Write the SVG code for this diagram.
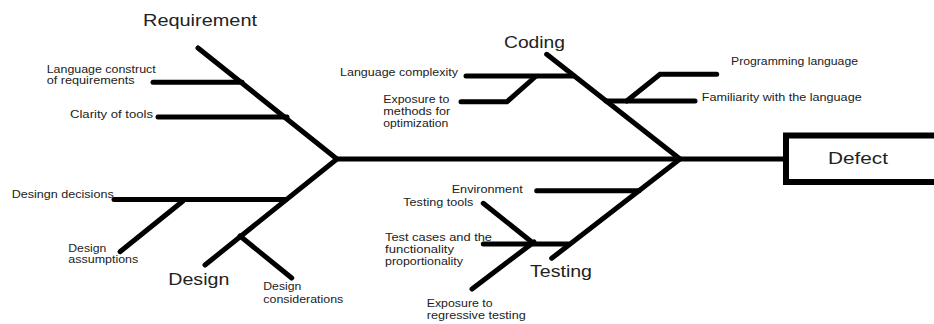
<svg xmlns="http://www.w3.org/2000/svg" width="934" height="324" viewBox="0 0 934 324">
  <style>
    .ln { fill: none; stroke: #000; stroke-width: 5; stroke-linecap: round; stroke-linejoin: miter; }
    .sm { font-family: "Liberation Sans", Arial, sans-serif; font-size: 10px; fill: #222; lengthAdjust: spacingAndGlyphs; }
    .lg { font-family: "Liberation Sans", Arial, sans-serif; font-size: 16px; fill: #222; }
    .box { fill: #fff; stroke: #000; stroke-width: 6; }
  </style>
  <rect width="934" height="324" fill="#fff"/>

  <!-- spine and main bones -->
  <g id="connectors">
    <path class="ln" d="M337 159 H786" stroke-linecap="butt"/>
    <path class="ln" d="M198 48 L337 159 L205 265"/>
    <path class="ln" d="M546.7 54.3 L680 159 L551.7 258.3"/>
  </g>

  <!-- effect -->
  <g id="defect">
    <rect class="box" x="786" y="135.5" width="160" height="46.5"/>
    <text class="lg" x="828" y="164" font-size="18" textLength="60" lengthAdjust="spacingAndGlyphs">Defect</text>
  </g>

  <!-- Requirement causes -->
  <g id="requirement">
    <text class="lg" x="143" y="26" textLength="114" lengthAdjust="spacingAndGlyphs">Requirement</text>
    <path class="ln" d="M153 82.3 H242"/>
    <path class="ln" d="M158 117 H287"/>
    <text class="sm" x="46.7" y="72.5" textLength="109" lengthAdjust="spacingAndGlyphs">Language construct</text>
    <text class="sm" x="46.7" y="84.3" textLength="88" lengthAdjust="spacingAndGlyphs">of requirements</text>
    <text class="sm" x="70" y="118" textLength="83" lengthAdjust="spacingAndGlyphs">Clarity of tools</text>
  </g>

  <!-- Coding causes -->
  <g id="coding">
    <text class="lg" x="504" y="47.7" textLength="61" lengthAdjust="spacingAndGlyphs">Coding</text>
    <path class="ln" d="M466 76 H574"/>
    <path class="ln" d="M461 101.7 H507 L535 77"/>
    <path class="ln" d="M606 101 H695"/>
    <path class="ln" d="M626.7 101 L660 74.3 H716.7"/>
    <text class="sm" x="340" y="75.5" textLength="118" lengthAdjust="spacingAndGlyphs">Language complexity</text>
    <text class="sm" x="383.3" y="102.7" textLength="66" lengthAdjust="spacingAndGlyphs">Exposure to</text>
    <text class="sm" x="383.3" y="115" textLength="67" lengthAdjust="spacingAndGlyphs">methods for</text>
    <text class="sm" x="383.3" y="127.3" textLength="65" lengthAdjust="spacingAndGlyphs">optimization</text>
    <text class="sm" x="731" y="65" textLength="127" lengthAdjust="spacingAndGlyphs">Programming language</text>
    <text class="sm" x="701.7" y="100.7" textLength="160" lengthAdjust="spacingAndGlyphs">Familiarity with the language</text>
  </g>

  <!-- Design causes -->
  <g id="design">
    <text class="lg" x="168.3" y="285" textLength="61" lengthAdjust="spacingAndGlyphs">Design</text>
    <path class="ln" d="M114 199.5 H286"/>
    <path class="ln" d="M120 251.7 L183 201"/>
    <path class="ln" d="M240 236 L291.7 278"/>
    <text class="sm" x="11.7" y="198.3" textLength="102" lengthAdjust="spacingAndGlyphs">Desingn decisions</text>
    <text class="sm" x="68.3" y="251.7" textLength="38" lengthAdjust="spacingAndGlyphs">Design</text>
    <text class="sm" x="68.3" y="263.3" textLength="70" lengthAdjust="spacingAndGlyphs">assumptions</text>
    <text class="sm" x="263.3" y="290" textLength="38" lengthAdjust="spacingAndGlyphs">Design</text>
    <text class="sm" x="263.3" y="302.7" textLength="80" lengthAdjust="spacingAndGlyphs">considerations</text>
  </g>

  <!-- Testing causes -->
  <g id="testing">
    <text class="lg" x="530" y="276.7" textLength="62" lengthAdjust="spacingAndGlyphs">Testing</text>
    <path class="ln" d="M536.7 190.7 H639"/>
    <path class="ln" d="M483.3 203.3 L533 243"/>
    <path class="ln" d="M483.3 244 H568.3"/>
    <path class="ln" d="M472 289 L534 242"/>
    <text class="sm" x="451.7" y="193.3" textLength="71" lengthAdjust="spacingAndGlyphs">Environment</text>
    <text class="sm" x="403.3" y="206" textLength="70" lengthAdjust="spacingAndGlyphs">Testing tools</text>
    <text class="sm" x="385" y="240.7" textLength="107" lengthAdjust="spacingAndGlyphs">Test cases and the</text>
    <text class="sm" x="385" y="252.5" textLength="69" lengthAdjust="spacingAndGlyphs">functionality</text>
    <text class="sm" x="385" y="264.5" textLength="78" lengthAdjust="spacingAndGlyphs">proportionality</text>
    <text class="sm" x="426.7" y="306.7" textLength="66" lengthAdjust="spacingAndGlyphs">Exposure to</text>
    <text class="sm" x="426.7" y="319" textLength="99" lengthAdjust="spacingAndGlyphs">regressive testing</text>
  </g>
</svg>
